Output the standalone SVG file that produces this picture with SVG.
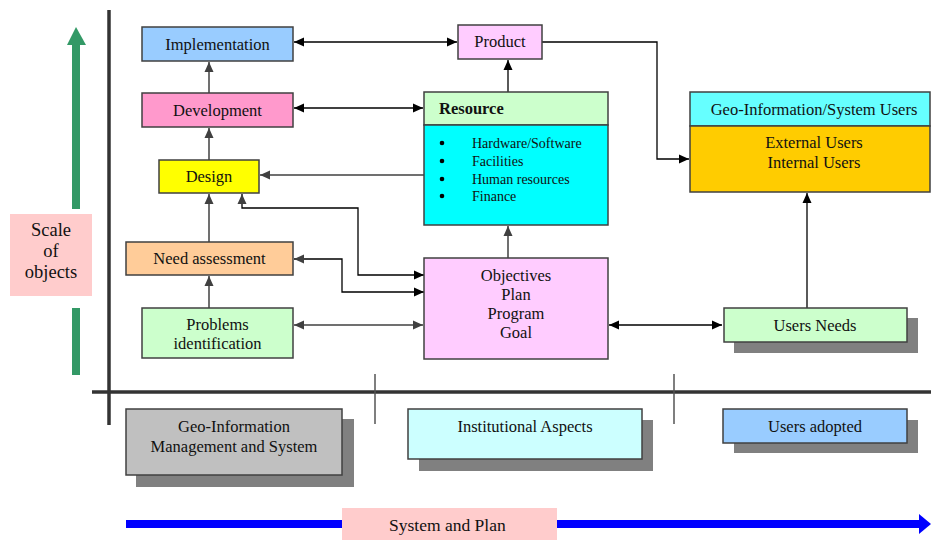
<svg xmlns="http://www.w3.org/2000/svg" width="931" height="540" viewBox="0 0 931 540" font-family="Liberation Serif, DejaVu Serif, serif">
<style>
text{font-family:'Liberation Serif','DejaVu Serif',serif;fill:#111;font-size:16.5px}
.c{text-anchor:middle}
.b{stroke:#404040;stroke-width:1.5}
.sh{fill:#808080}
.k{fill:none;stroke:#000;stroke-width:1.3}
.g{fill:none;stroke:#404040;stroke-width:1.5}
.sm{font-size:14px}
.lg{font-size:18.5px}
.sp{font-size:17.5px}
</style>
<defs>
<marker id="ak" viewBox="0 0 10 10" refX="10" refY="5" markerWidth="10" markerHeight="10" markerUnits="userSpaceOnUse" orient="auto-start-reverse"><path d="M0,0.5L10,5L0,9.5z" fill="#000"/></marker>
<marker id="ag" viewBox="0 0 10 10" refX="10" refY="5" markerWidth="10" markerHeight="10" markerUnits="userSpaceOnUse" orient="auto-start-reverse"><path d="M0,0.5L10,5L0,9.5z" fill="#404040"/></marker>
</defs>
<rect width="931" height="540" fill="#fff"/>

<g id="axes">
<rect x="72" y="44" width="8" height="165" fill="#339966"/>
<path d="M67,45L76,27L86,45z" fill="#339966"/>
<rect x="72" y="308" width="8" height="67" fill="#339966"/>
<line x1="109" y1="10" x2="109" y2="425" stroke="#333" stroke-width="3.5"/>
<line x1="92" y1="392" x2="931" y2="392" stroke="#333" stroke-width="3.5"/>
<line x1="375" y1="374" x2="375" y2="424" stroke="#555" stroke-width="1.5"/>
<line x1="674" y1="374" x2="674" y2="424" stroke="#555" stroke-width="1.5"/>
<rect x="126" y="520" width="796" height="8" fill="#0000FF"/>
<path d="M919,514L931,524L919,534z" fill="#0000FF"/>
</g>

<g id="scale">
<rect x="10" y="214" width="82" height="82" fill="#FFCCCC"/>
<text class="c lg" x="51" y="236">Scale</text>
<text class="c lg" x="51" y="257">of</text>
<text class="c lg" x="51" y="278">objects</text>
</g>

<g id="systemplan">
<rect x="342" y="508" width="215" height="32" fill="#FFCCCC"/>
<text class="sp" x="389" y="531">System and Plan</text>
</g>

<g id="connectors">
<line class="k" x1="294" y1="42" x2="457" y2="42" marker-start="url(#ak)" marker-end="url(#ak)"/>
<line class="k" x1="294" y1="108" x2="423" y2="108" marker-start="url(#ak)" marker-end="url(#ak)"/>
<line class="k" x1="508" y1="92" x2="508" y2="60" marker-end="url(#ak)"/>
<line class="g" x1="209" y1="93" x2="209" y2="62" marker-end="url(#ag)"/>
<line class="g" x1="209" y1="160" x2="209" y2="128" marker-end="url(#ag)"/>
<line class="g" x1="209" y1="242" x2="209" y2="194" marker-end="url(#ag)"/>
<line class="g" x1="209" y1="308" x2="209" y2="276" marker-end="url(#ag)"/>
<line class="g" x1="424" y1="175" x2="260" y2="175" marker-end="url(#ag)"/>
<polyline class="k" points="424,275 358,275 358,208 242,208 242,194" marker-start="url(#ak)" marker-end="url(#ag)"/>
<polyline class="k" points="424,292 342,292 342,259 294,259" marker-start="url(#ak)" marker-end="url(#ag)"/>
<line class="g" x1="294" y1="325" x2="423" y2="325" marker-start="url(#ag)" marker-end="url(#ag)"/>
<line class="g" x1="508" y1="258" x2="508" y2="226" marker-end="url(#ag)"/>
<line class="k" x1="609" y1="325" x2="722" y2="325" marker-start="url(#ak)" marker-end="url(#ak)"/>
<polyline class="k" points="542,42 657,42 657,159 689,159" marker-end="url(#ak)"/>
<line class="k" x1="807" y1="308" x2="807" y2="193" marker-end="url(#ak)"/>
</g>

<g id="implementation">
<rect class="b" x="142" y="27" width="151" height="34" fill="#99CCFF"/>
<text class="c" x="217.5" y="50">Implementation</text>
</g>
<g id="development">
<rect class="b" x="142" y="93" width="151" height="34" fill="#FF99CC"/>
<text class="c" x="217.5" y="116">Development</text>
</g>
<g id="design">
<rect class="b" x="159" y="160" width="100" height="33" fill="#FFFF00"/>
<text class="c" x="209" y="182">Design</text>
</g>
<g id="need">
<rect class="b" x="126" y="242" width="167" height="33" fill="#FFCC99"/>
<text class="c" x="209.5" y="264">Need assessment</text>
</g>
<g id="problems">
<rect class="b" x="142" y="308" width="151" height="50" fill="#CCFFCC"/>
<text class="c" x="217.5" y="330">Problems</text>
<text class="c" x="217.5" y="349">identification</text>
</g>
<g id="product">
<rect class="b" x="458" y="25" width="84" height="34" fill="#FFCCFF"/>
<text class="c" x="500" y="47">Product</text>
</g>
<g id="resource">
<rect class="b" x="424" y="92" width="184" height="33" fill="#CCFFCC"/>
<rect class="b" x="424" y="125" width="184" height="100" fill="#00FFFF"/>
<text x="439" y="114" font-weight="bold">Resource</text>
<circle cx="442" cy="143" r="2.3" fill="#000"/>
<circle cx="442" cy="161" r="2.3" fill="#000"/>
<circle cx="442" cy="179" r="2.3" fill="#000"/>
<circle cx="442" cy="196" r="2.3" fill="#000"/>
<text class="sm" x="472" y="148">Hardware/Software</text>
<text class="sm" x="472" y="166">Facilities</text>
<text class="sm" x="472" y="184">Human resources</text>
<text class="sm" x="472" y="201">Finance</text>
</g>
<g id="objectives">
<rect class="b" x="424" y="258" width="184" height="101" fill="#FFCCFF"/>
<text class="c" x="516" y="281">Objectives</text>
<text class="c" x="516" y="300">Plan</text>
<text class="c" x="516" y="319">Program</text>
<text class="c" x="516" y="338">Goal</text>
</g>
<g id="geousers">
<rect class="b" x="690" y="92" width="240" height="34" fill="#66FFFF"/>
<rect class="b" x="690" y="126" width="240" height="66" fill="#FFCC00"/>
<text class="c" x="814" y="115">Geo-Information/System Users</text>
<text class="c" x="814" y="148">External Users</text>
<text class="c" x="814" y="168">Internal Users</text>
</g>
<g id="usersneeds">
<rect class="sh" x="734" y="318" width="184" height="35"/>
<rect class="b" x="724" y="308" width="183" height="34" fill="#CCFFCC"/>
<text class="c" x="815" y="331">Users Needs</text>
</g>
<g id="geomgmt">
<rect class="sh" x="136" y="419" width="218" height="68"/>
<rect class="b" x="126" y="409" width="216" height="66" fill="#C0C0C0"/>
<text class="c" x="234" y="432">Geo-Information</text>
<text class="c" x="234" y="452">Management and System</text>
</g>
<g id="institutional">
<rect class="sh" x="419" y="420" width="234" height="51"/>
<rect class="b" x="408" y="409" width="234" height="50" fill="#CCFFFF"/>
<text class="c" x="525" y="432">Institutional Aspects</text>
</g>
<g id="usersadopted">
<rect class="sh" x="734" y="420" width="184" height="33"/>
<rect class="b" x="723" y="409" width="184" height="34" fill="#99CCFF"/>
<text class="c" x="815" y="432">Users adopted</text>
</g>
</svg>
